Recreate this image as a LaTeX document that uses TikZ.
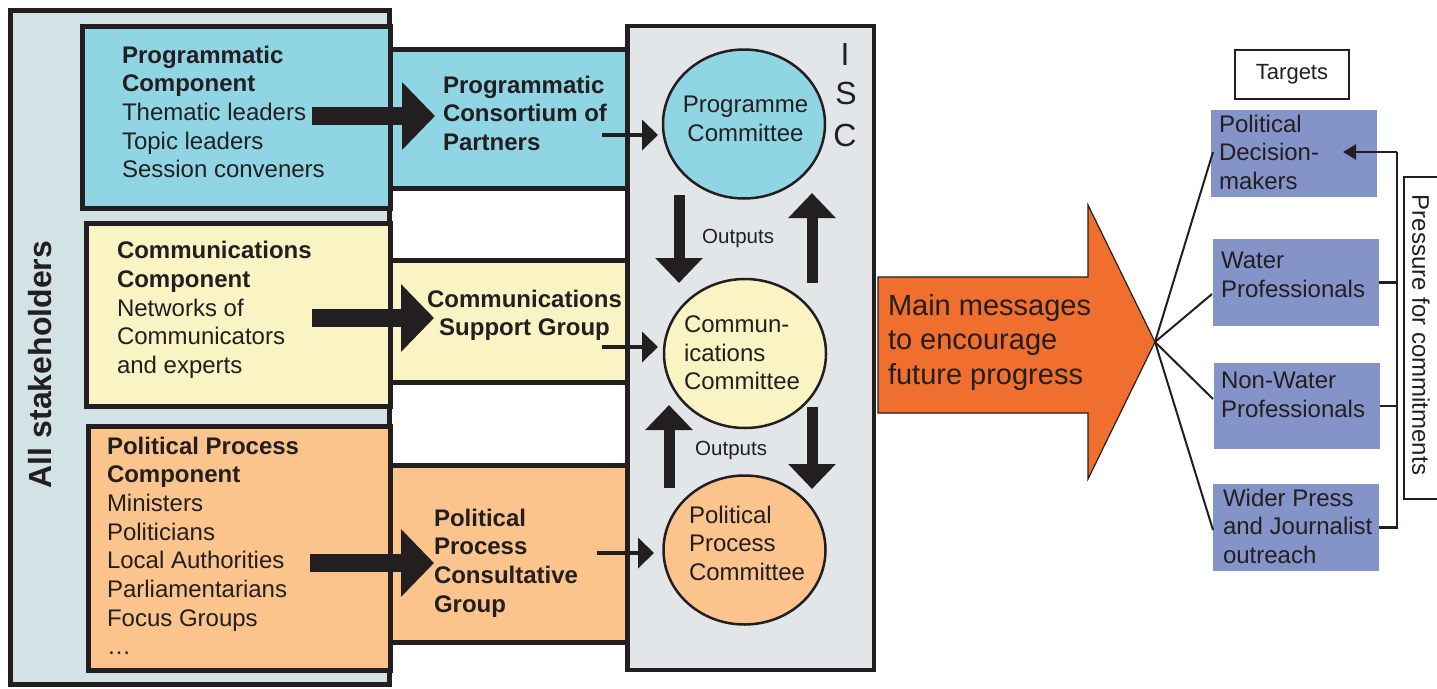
\documentclass[tikz,border=0pt]{standalone}
\usepackage{fontspec}
\setmainfont{Liberation Sans}
\usetikzlibrary{arrows.meta,shapes.geometric,calc}
\definecolor{dark}{HTML}{231F20}
\definecolor{stakebg}{HTML}{D3E3E5}
\definecolor{cyanc}{HTML}{90D5E3}
\definecolor{yellowc}{HTML}{FAF3C4}
\definecolor{orangec}{HTML}{FBC48C}
\definecolor{iscg}{HTML}{E2E6E8}
\definecolor{orangearr}{HTML}{F06E2E}
\definecolor{bluec}{HTML}{8494C9}
\begin{document}
\begin{tikzpicture}[x=1pt,y=-1pt,
  box/.style={draw=dark, line width=5pt, inner sep=0pt, outer sep=0pt},
  circ/.style={ellipse, draw=dark, line width=2.5pt, inner sep=0pt, outer sep=0pt, minimum width=162pt, minimum height=149pt},
  tbox/.style={fill=bluec, inner sep=0pt, outer sep=0pt, minimum width=166pt},
  txt/.style={inner sep=0pt, outer sep=0pt, align=left, anchor=north west, text=dark, font=\fontsize{24}{28.6}\selectfont},
  bigarr/.style={draw=dark, line width=18pt, -{Triangle[length=33pt,width=66pt]}},
  midarr/.style={draw=dark, line width=11pt, -{Triangle[length=25pt,width=46pt]}},
  smallarr/.style={draw=dark, line width=4pt, -{Triangle[length=16pt,width=30pt]}},
  thin/.style={draw=dark, line width=2pt},
  iscletter/.style={inner sep=0pt, anchor=base, text=dark, font=\fontsize{32}{38}\selectfont}
]
\useasboundingbox (0,0) rectangle (1437,688);

% outer stakeholder box
\node[box, fill=stakebg, minimum width=379pt, minimum height=674pt] (all) at (199.5,347) {};
% group boxes
\node[box, fill=cyanc, minimum width=238pt, minimum height=138.5pt] (g1) at (509,118.75) {};
\node[box, fill=yellowc, minimum width=238pt, minimum height=122pt] (g2) at (509,321) {};
\node[box, fill=orangec, minimum width=238pt, minimum height=177pt] (g3) at (509,554) {};
% component boxes
\node[box, fill=cyanc, minimum width=307.5pt, minimum height=182pt] (c1) at (236.25,117) {};
\node[box, fill=yellowc, minimum width=303.5pt, minimum height=183pt] (c2) at (238.25,314.5) {};
\node[box, fill=orangec, minimum width=301.5pt, minimum height=244pt] (c3) at (239.25,548) {};
% ISC box
\node[box, line width=4.5pt, fill=iscg, minimum width=246.5pt, minimum height=644pt] (isc) at (750.5,348) {};
% committees
\node[circ, fill=cyanc] (pc) at (744,124) {};
\node[circ, fill=yellowc] (cc) at (745,353.5) {};
\node[circ, fill=orangec] (ppc) at (744.5,550) {};

% stakeholders label
\node[inner sep=0pt, rotate=90, text=dark, font=\fontsize{32}{38}\selectfont\bfseries] (stk) at (40,364.5) {All stakeholders};

% big arrows
\coordinate (a1s) at (312,116); \coordinate (a1e) at (435,116);
\coordinate (a2s) at (312,318); \coordinate (a2e) at (434,318);
\coordinate (a3s) at (310,563); \coordinate (a3e) at (434,563);
\draw[bigarr] (a1s) -- (a1e);
\draw[bigarr] (a2s) -- (a2e);
\draw[bigarr] (a3s) -- (a3e);

% small arrows
\coordinate (s1s) at (602,135); \coordinate (s1e) at (658,135);
\coordinate (s2s) at (602,347); \coordinate (s2e) at (658,347);
\coordinate (s3s) at (597,553); \coordinate (s3e) at (654,553);
\draw[smallarr] (s1s) -- (s1e);
\draw[smallarr] (s2s) -- (s2e);
\draw[smallarr] (s3s) -- (s3e);

% committee arrows
\coordinate (m1s) at (679,195); \coordinate (m1e) at (679,283);
\coordinate (m2s) at (812,283); \coordinate (m2e) at (812,193);
\coordinate (m3s) at (669,488); \coordinate (m3e) at (669,405);
\coordinate (m4s) at (812,407); \coordinate (m4e) at (812,489);
\draw[midarr] (m1s) -- (m1e);
\draw[midarr] (m2s) -- (m2e);
\draw[midarr] (m3s) -- (m3e);
\draw[midarr] (m4s) -- (m4e);

% texts in boxes
\node[txt] (t1) at (122,46) {\textbf{Programmatic}\\\textbf{Component}\\Thematic leaders\\Topic leaders\\Session conveners};
\node[txt] (t2) at (117,241.5) {\textbf{Communications}\\\textbf{Component}\\Networks of\\Communicators\\and experts};
\node[txt] (t3) at (107,437) {\textbf{Political Process}\\\textbf{Component}\\Ministers\\Politicians\\Local Authorities\\Parliamentarians\\Focus Groups\\\dots};
\node[txt, font=\fontsize{24}{28.6}\selectfont\bfseries] (t4) at (443,76) {Programmatic\\Consortium of\\Partners};
\node[txt, anchor=north, align=center, font=\fontsize{24}{28.6}\selectfont\bfseries] (t5) at (524.5,290) {Communications\\Support Group};
\node[txt, font=\fontsize{24}{28.6}\selectfont\bfseries] (t6) at (434,509) {Political\\Process\\Consultative\\Group};
\node[txt, anchor=north, align=center] (t7) at (745.5,96) {Programme\\Committee};
\node[txt] (t8) at (684,316) {Commun-\\ications\\Committee};
\node[txt] (t9) at (689,506) {Political\\Process\\Committee};

% outputs
\node[inner sep=0pt, anchor=base west, text=dark, font=\fontsize{20.5}{24}\selectfont] (o1) at (702,243) {Outputs};
\node[inner sep=0pt, anchor=base west, text=dark, font=\fontsize{20.5}{24}\selectfont] (o2) at (695,455) {Outputs};

% ISC letters
\node[iscletter] (iscI) at (845,65) {I};
\node[iscletter] (iscS) at (846,104.5) {S};
\node[iscletter] (iscC) at (845,146) {C};

% orange arrow
\coordinate (otip) at (1155,342);
\filldraw[fill=orangearr, draw=dark, line width=1.2pt, line join=miter]
  (878,277) -- (1088,277) -- (1088,205) -- (otip) -- (1088,479) -- (1088,413) -- (878,413) -- cycle;
\node[txt, font=\fontsize{29}{34.5}\selectfont] (msg) at (888,294) {Main messages\\to encourage\\future progress};

% targets
\node[draw=dark, line width=2.5pt, inner sep=0pt, minimum width=114pt, minimum height=49pt, text=dark, font=\fontsize{22}{26}\selectfont] (tg) at (1292,74.5) {Targets};
\node[tbox, minimum height=87pt] (b1) at (1294,153.5) {};
\node[tbox, minimum height=87pt] (b2) at (1296,282.5) {};
\node[tbox, minimum height=86pt] (b3) at (1297,406) {};
\node[tbox, minimum height=87pt] (b4) at (1296,527.5) {};
\node[txt] (bt1) at (1219,115) {Political\\Decision-\\makers};
\node[txt] (bt2) at (1221,252) {Water\\Professionals};
\node[txt] (bt3) at (1221,372) {Non-Water\\Professionals};
\node[txt] (bt4) at (1223,489) {Wider Press\\and Journalist\\outreach};

% fan lines
\draw[thin] (otip) -- ($(b1.west)+(2,-1.5)$);
\draw[thin] (otip) -- ($(b2.west)+(-1,11.5)$);
\draw[thin] (otip) -- ($(b3.west)+(-1,-7)$);
\draw[thin] (otip) -- ($(b4.west)+(0,2.5)$);

% pressure bracket
\coordinate (vtop) at (1397,152);
\coordinate (pdtip) at (1343,152);
\draw[draw=dark, line width=2.5pt] (vtop) -- (vtop |- b4.east) -- (b4.east);
\draw[draw=dark, line width=2.5pt] (b2.east) -- (b2.east -| vtop);
\draw[draw=dark, line width=2.5pt] (b3.east) -- (b3.east -| vtop);
\draw[draw=dark, line width=2.5pt, -{Triangle[length=13pt,width=15pt]}] (vtop) -- (pdtip);
\draw[draw=dark, line width=2.5pt] (1445,177) -- (1404,177) -- (1404,499) -- (1445,499);
\node[inner sep=0pt, rotate=-90, text=dark, font=\fontsize{24}{28}\selectfont] (pr) at (1421,335) {Pressure for commitments};
\end{tikzpicture}
\end{document}
